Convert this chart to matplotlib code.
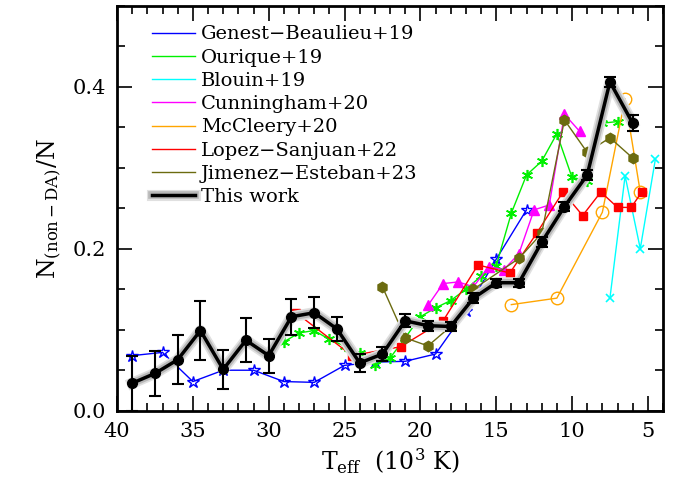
import numpy as np
import matplotlib
matplotlib.use('Agg')
import matplotlib.pyplot as plt
import matplotlib.patheffects as pe
from matplotlib.ticker import MultipleLocator

# Genest-Beaulieu+19
gb_t = [39, 37, 35, 33, 31, 29, 27, 25, 23, 21, 19, 17, 15, 13]
gb_f = [0.068, 0.072, 0.036, 0.050, 0.050, 0.036, 0.035, 0.056, 0.060, 0.061, 0.070, 0.123, 0.187, 0.248]

# Ourique+19
ou_t = [29, 28, 27, 26, 25, 24, 23, 22, 21, 20, 19, 18, 17, 16, 15, 14, 13, 12, 11, 10, 9, 8, 7]
ou_f = [0.085, 0.096, 0.099, 0.088, 0.080, 0.071, 0.057, 0.065, 0.090, 0.116, 0.127, 0.136, 0.150,
        0.166, 0.179, 0.244, 0.291, 0.308, 0.342, 0.288, 0.284, 0.355, 0.357]

# Blouin+19
bl_t = [7.5, 6.5, 5.5, 4.5]
bl_f = [0.139, 0.290, 0.200, 0.311]

# Cunningham+20
cu_t = [19.5, 18.5, 17.5, 16.5, 15.5, 14.5, 13.5, 12.5, 11.5, 10.5, 9.5]
cu_f = [0.130, 0.157, 0.159, 0.153, 0.178, 0.174, 0.194, 0.248, 0.254, 0.366, 0.345]

# McCleery+20
mc_t = [14.0, 11.0, 8.0, 6.5, 5.5]
mc_f = [0.131, 0.139, 0.245, 0.385, 0.270]

# Lopez-Sanjuan+22
ls_t = [28.2, 24.5, 21.3, 18.5, 16.2, 14.1, 12.3, 10.6, 9.3, 8.1, 7.0, 6.1, 5.4]
ls_f = [0.121, 0.068, 0.079, 0.111, 0.180, 0.170, 0.220, 0.270, 0.241, 0.270, 0.251, 0.251, 0.270]

# Jimenez-Esteban+23
je_t = [22.5, 21, 19.5, 18, 16.5, 13.5, 12, 10.5, 9, 7.5, 6]
je_f = [0.153, 0.090, 0.080, 0.104, 0.150, 0.188, 0.219, 0.359, 0.319, 0.337, 0.312]

# This work
tw_t = [39, 37.5, 36, 34.5, 33, 31.5, 30, 28.5, 27, 25.5, 24, 22.5, 21, 19.5, 18, 16.5,
        15, 13.5, 12, 10.5, 9, 7.5, 6]
tw_f = [0.034, 0.046, 0.063, 0.099, 0.051, 0.087, 0.068, 0.116, 0.121, 0.101, 0.059, 0.070,
        0.111, 0.105, 0.104, 0.139, 0.158, 0.158, 0.208, 0.252, 0.291, 0.406, 0.355]
tw_err = [0.034, 0.028, 0.030, 0.036, 0.024, 0.027, 0.021, 0.022, 0.019, 0.015, 0.011, 0.009,
          0.008, 0.006, 0.006, 0.006, 0.005, 0.005, 0.006, 0.006, 0.006, 0.006, 0.010]

plt.rcParams['font.family'] = ['DejaVu Serif']
plt.rcParams['mathtext.fontset'] = 'dejavuserif'

fig = plt.figure(figsize=(6.86, 4.9), dpi=100)
ax = fig.add_axes([0.1706, 0.1618, 0.7959, 0.8265])

ax.plot(gb_t, gb_f, '-', color='#0000ff', lw=1, marker='*', ms=9, mfc='none', mec='#0000ff',
        mew=1, label='Genest\u2212Beaulieu+19')
ax.plot(ou_t, ou_f, '-', color='#00f000', lw=1, marker=(6, 2, 0), ms=8, mew=1.2,
        label='Ourique+19')
ax.plot(bl_t, bl_f, '-', color='#00ffff', lw=1, marker='x', ms=6, mew=1.2, label='Blouin+19')
ax.plot(cu_t, cu_f, '-', color='#ff00ff', lw=1, marker='^', ms=7, label='Cunningham+20')
ax.plot(mc_t, mc_f, '-', color='#ffa500', lw=1, marker='o', ms=9, mfc='none', mec='#ffa500',
        mew=1, label='McCleery+20')
ax.plot(ls_t, ls_f, '-', color='#ff0000', lw=1, marker='s', ms=6, label='Lopez\u2212Sanjuan+22')
ax.plot(je_t, je_f, '-', color='#6b6b10', lw=1, marker='h', ms=7.5, label='Jimenez\u2212Esteban+23')

glow = [pe.Stroke(linewidth=8, foreground='0.88'), pe.Stroke(linewidth=5.5, foreground='0.72'),
        pe.Normal()]
ax.plot(tw_t, tw_f, '-', color='black', lw=2.5, path_effects=glow, zorder=5, label='This work')
ax.errorbar(tw_t, tw_f, yerr=tw_err, fmt='o', color='black', ms=7, elinewidth=1.5,
            capsize=4, capthick=1.5, zorder=6)

ax.set_xlim(40, 4)
ax.set_ylim(0, 0.5)
ax.xaxis.set_major_locator(MultipleLocator(5))
ax.xaxis.set_minor_locator(MultipleLocator(1))
ax.yaxis.set_major_locator(MultipleLocator(0.2))
ax.yaxis.set_minor_locator(MultipleLocator(0.05))
ax.yaxis.set_major_formatter(matplotlib.ticker.FormatStrFormatter('%.1f'))
ax.tick_params(which='both', direction='in', top=True, right=True, width=1.2, labelsize=15)
ax.tick_params(which='major', length=11, pad=8)
ax.tick_params(which='minor', length=6)
for s in ax.spines.values():
    s.set_linewidth(2)

ax.set_xlabel(r'$\mathregular{T_{eff}\ \ (10^3\ K)}$', fontsize=17, labelpad=4)
ax.set_ylabel(r'$\mathregular{N_{(non-DA)}/N}$', fontsize=17, labelpad=6)

leg = ax.legend(loc='upper left', frameon=False, fontsize=14, handlelength=2.2,
                handletextpad=0.3, labelspacing=0.27, borderaxespad=0.3,
                bbox_to_anchor=(0.04, 0.985), markerscale=0)

fig.savefig('out.png', dpi=100)
